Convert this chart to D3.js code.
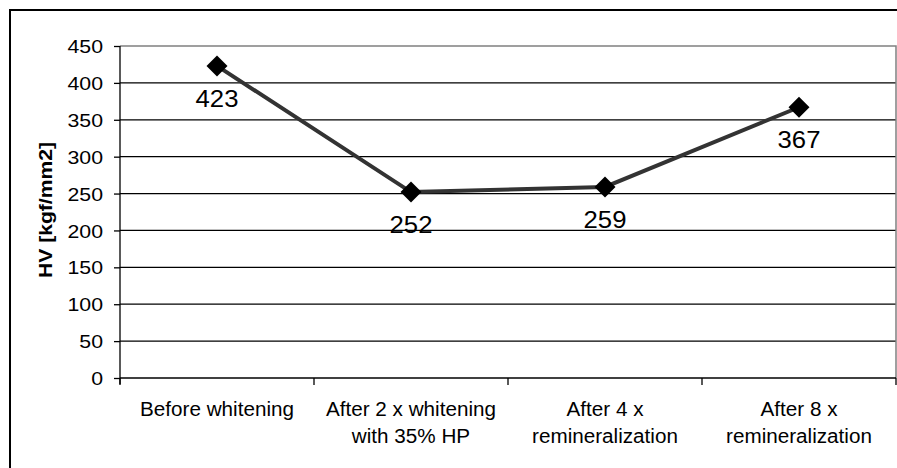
<!DOCTYPE html>
<html>
<head>
<meta charset="utf-8">
<script src="https://cdn.jsdelivr.net/npm/d3@7"></script>
<style>
  html, body { margin: 0; padding: 0; background: #fff; }
  svg { display: block; font-family: "Liberation Sans", Arial, sans-serif; }
</style>
</head>
<body>
<svg id="chart" width="897" height="468"></svg>
<script>
const categories = [
  ["Before whitening"],
  ["After 2 x whitening", "with 35% HP"],
  ["After 4 x", "remineralization"],
  ["After 8 x", "remineralization"]
];
const values = [423, 252, 259, 367];
const yTicks = [0, 50, 100, 150, 200, 250, 300, 350, 400, 450];
const yTitle = "HV [kgf/mm2]";

const svg = d3.select("#chart");
const W = 897, H = 468;
const m = { left: 120, top: 46, right: 896, bottom: 378 };

function stretch(sel, f) {
  sel.each(function() {
    const len = this.getComputedTextLength();
    d3.select(this).attr("textLength", len * f).attr("lengthAdjust", "spacingAndGlyphs");
  });
}

svg.append("rect").attr("width", W).attr("height", H).attr("fill", "#fff");
// outer frame
svg.append("rect").attr("x", 10).attr("y", 10).attr("width", 900).attr("height", 470)
  .attr("fill", "none").attr("stroke", "#000").attr("stroke-width", 2);

const x = d3.scaleBand().domain(d3.range(categories.length)).range([m.left, m.right]);
const y = d3.scaleLinear().domain([0, 450]).range([m.bottom, m.top]);

// gridlines
svg.append("g").selectAll("line").data(yTicks.filter(t => t > 0 && t < 450)).join("line")
  .attr("x1", m.left).attr("x2", m.right)
  .attr("y1", d => y(d)).attr("y2", d => y(d))
  .attr("stroke", "#000").attr("stroke-width", 1.3);

// plot border top/right grey
svg.append("path")
  .attr("d", `M${m.left},${y(450)}H${m.right}V${m.bottom}`)
  .attr("fill", "none").attr("stroke", "#808080").attr("stroke-width", 1.5);

// y axis
const yAxis = d3.axisLeft(y).tickValues(yTicks).tickSize(6).tickPadding(11);
const gy = svg.append("g").attr("transform", `translate(${m.left},0)`).call(yAxis);
gy.select(".domain").attr("stroke", "#000").attr("stroke-width", 1.3).attr("d", `M0,${m.top}V${m.bottom + 6}`);
gy.selectAll(".tick line").attr("stroke", "#000").attr("stroke-width", 1.3);
gy.selectAll(".tick text").attr("font-size", 19).attr("fill", "#000")
  .attr("font-family", '"Liberation Sans", Arial, sans-serif').attr("dy", "0.35em");
stretch(gy.selectAll(".tick text"), 1.12);

// x axis
const gx = svg.append("g").attr("transform", `translate(0,${m.bottom})`);
gx.append("line").attr("x1", m.left).attr("x2", m.right).attr("stroke", "#000").attr("stroke-width", 1.3);
const bounds = d3.range(categories.length + 1).map(i => m.left + i * x.step());
gx.selectAll(".xt").data(bounds).join("line").attr("class", "xt")
  .attr("x1", d => d).attr("x2", d => d).attr("y1", 0).attr("y2", 7)
  .attr("stroke", "#000").attr("stroke-width", 1.3);

const catLines = [];
categories.forEach((lines, i) => lines.forEach((ln, j) => catLines.push({ i, j, ln })));
const catText = gx.selectAll(".cat").data(catLines).join("text").attr("class", "cat")
  .attr("x", d => x(d.i) + x.bandwidth() / 2).attr("y", d => 38 + d.j * 27)
  .attr("text-anchor", "middle").attr("font-size", 19.5).attr("fill", "#000")
  .text(d => d.ln);
stretch(catText, 1.06);

// y title
svg.append("text")
  .attr("transform", `translate(52,210) rotate(-90)`)
  .attr("text-anchor", "middle").attr("font-size", 17.5).attr("font-weight", "bold")
  .attr("textLength", 136).attr("lengthAdjust", "spacingAndGlyphs")
  .text(yTitle);

// line
const cx = i => x(i) + x.bandwidth() / 2;
svg.append("path").datum(values)
  .attr("d", d3.line().x((d, i) => cx(i)).y(d => y(d)))
  .attr("fill", "none").attr("stroke", "#333").attr("stroke-width", 4);

// markers
svg.selectAll(".mk").data(values).join("path").attr("class", "mk")
  .attr("transform", (d, i) => `translate(${cx(i)},${y(d)})`)
  .attr("d", "M0,-10.5L10.5,0L0,10.5L-10.5,0Z")
  .attr("fill", "#000");

// data labels
const lbl = svg.selectAll(".lbl").data(values).join("text").attr("class", "lbl")
  .attr("x", (d, i) => cx(i)).attr("y", d => y(d) + 41)
  .attr("text-anchor", "middle").attr("font-size", 24).attr("fill", "#000")
  .text(d => d);
stretch(lbl, 1.07);
</script>
</body>
</html>
